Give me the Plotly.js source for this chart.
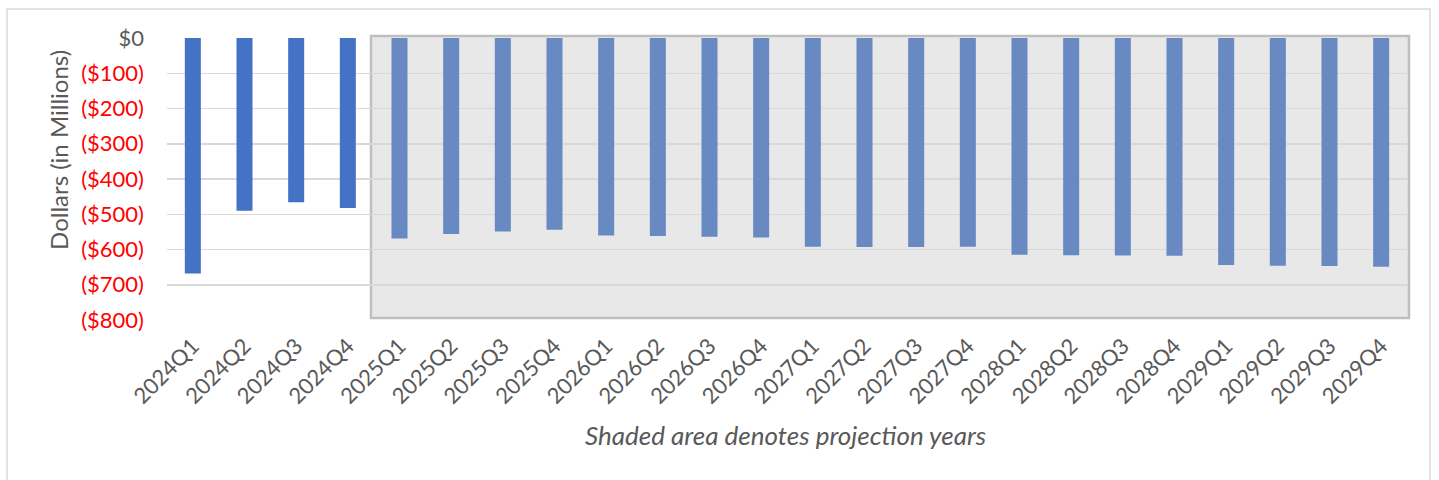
<!DOCTYPE html>
<html>
<head>
<meta charset="utf-8">
<script src="https://cdn.plot.ly/plotly-3.0.1.min.js"></script>
<style>html,body{margin:0;padding:0;background:#fff;}#chart{width:1439px;height:480px;}</style>
</head>
<body>
<div id="chart"></div>
<script>
const historicalQuarters = ["2024Q1","2024Q2","2024Q3","2024Q4"];
const historicalValues = [-668, -490, -466, -482];
const projectedQuarters = ["2025Q1","2025Q2","2025Q3","2025Q4","2026Q1","2026Q2","2026Q3","2026Q4",
  "2027Q1","2027Q2","2027Q3","2027Q4","2028Q1","2028Q2","2028Q3","2028Q4",
  "2029Q1","2029Q2","2029Q3","2029Q4"];
const projectedValues = [-569, -556, -549, -544, -560, -562, -564, -566,
  -592, -593, -593, -592, -615, -616, -617, -618,
  -644, -646, -647, -649];
const yTickValues = [0, -100, -200, -300, -400, -500, -600, -700, -800];
const yTickLabels = ["<span style='color:#595959'>$0</span>", "($100)", "($200)", "($300)", "($400)",
  "($500)", "($600)", "($700)", "($800)"];
const footnote = "Shaded area denotes projection years";
const yTitle = "Dollars (in Millions)";

const allQuarters = historicalQuarters.concat(projectedQuarters);

const traces = [
  {type: "bar", x: historicalQuarters, y: historicalValues, marker: {color: "#4472C4", line: {width: 0}},
   hoverinfo: "x+y", showlegend: false},
  {type: "bar", x: projectedQuarters, y: projectedValues, marker: {color: "#6889C2", line: {width: 0}},
   hoverinfo: "x+y", showlegend: false}
];

const layout = {
  width: 1439, height: 480,
  margin: {l: 167, r: 32, t: 38, b: 160, autoexpand: false},
  paper_bgcolor: "#ffffff",
  plot_bgcolor: "rgba(0,0,0,0)",
  barmode: "overlay",
  bargap: 0.69,
  font: {family: "Lato, 'Open Sans', sans-serif", color: "#595959"},
  xaxis: {
    type: "category",
    categoryorder: "array",
    categoryarray: allQuarters,
    tickangle: -45,
    tickfont: {size: 22, color: "#595959"},
    showgrid: false, showline: false, zeroline: false,
    ticks: "", ticklabelstandoff: 8,
    automargin: false
  },
  yaxis: {
    range: [-800, 0],
    tickvals: yTickValues,
    ticktext: yTickLabels,
    tickfont: {size: 22, color: "#FF0000"},
    showgrid: true, gridcolor: "#D9D9D9", gridwidth: 1.5,
    zeroline: false, showline: false, ticks: "",
    ticklabelstandoff: 22,
    automargin: false,
    fixedrange: true
  },
  shapes: [
    {type: "rect", xref: "paper", yref: "paper", x0: -0.129, x1: 1.0185, y0: -0.58, y1: 1.103,
     line: {color: "#D9D9D9", width: 1.5}, fillcolor: "rgba(0,0,0,0)", layer: "below"},
    {type: "rect", xref: "paper", yref: "paper", x0: 0.1645, x1: 1.0016, y0: 0.007, y1: 1.007,
     line: {color: "#BFBFBF", width: 2.5}, fillcolor: "#E8E8E8", layer: "below"}
  ],
  annotations: [
    {text: yTitle, xref: "paper", yref: "paper", x: -0.0871, y: 0.603, showarrow: false,
     textangle: -90, xanchor: "center", yanchor: "middle",
     font: {size: 24, color: "#595959", family: "Lato, 'Open Sans', sans-serif"}},
    {text: footnote, xref: "paper", yref: "paper", x: 0.499, y: -0.408, showarrow: false,
     xanchor: "center", yanchor: "middle",
     font: {size: 26, color: "#595959", family: "Lato, 'Open Sans', sans-serif", style: "italic"}}
  ]
};

Plotly.newPlot("chart", traces, layout, {displayModeBar: false, staticPlot: true});
</script>
</body>
</html>
